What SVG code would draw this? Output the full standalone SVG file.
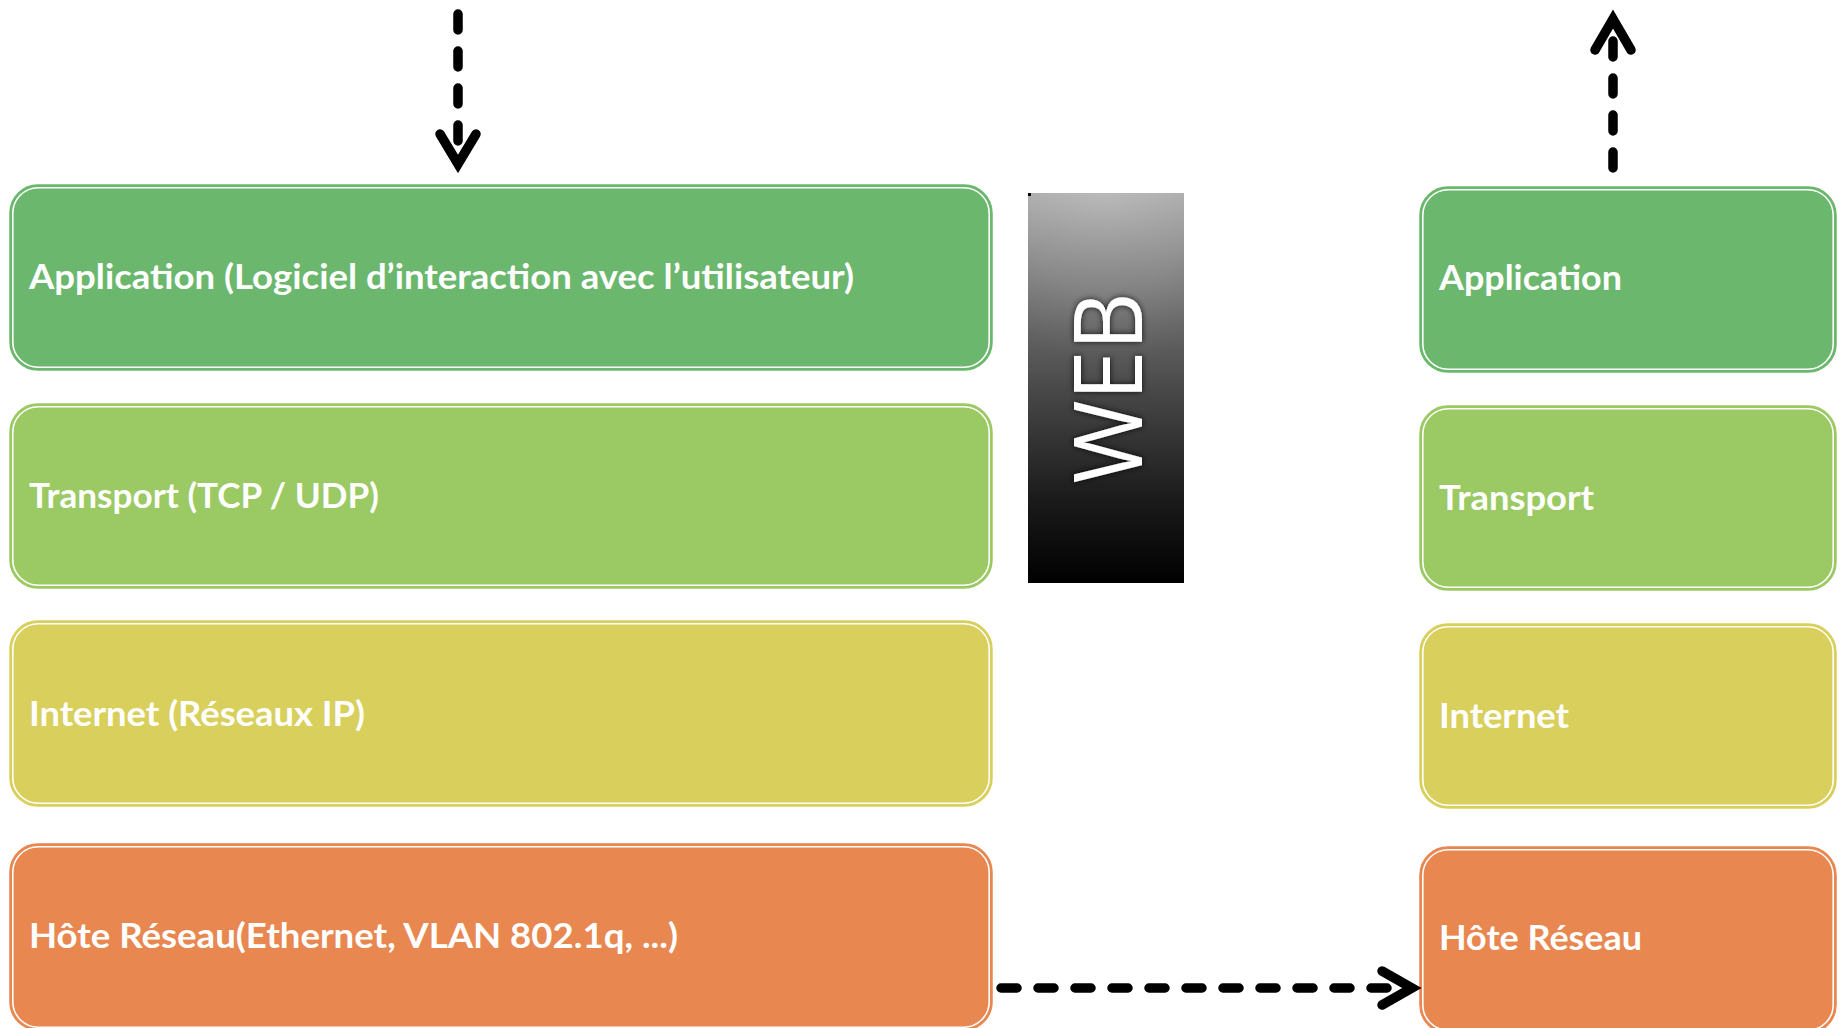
<svg xmlns="http://www.w3.org/2000/svg" width="1842" height="1028" viewBox="0 0 1842 1028">
<defs>
<style>
.box{stroke-width:1.5}
.inner{fill:none;stroke:#ffffff;stroke-width:1.6}
.lbl{font-family:Lato,"Open Sans","Liberation Sans",sans-serif;font-weight:bold;font-size:34px;fill:#ffffff}
.app{fill:#6CB76E;stroke:#6CB76E}
.tra{fill:#9BC963;stroke:#9BC963}
.int{fill:#D9CF5C;stroke:#D9CF5C}
.hot{fill:#E88750;stroke:#E88750}
.dash{fill:none;stroke:#000;stroke-width:9.5;stroke-linecap:round;stroke-dasharray:16 21}
.head{fill:none;stroke:#000;stroke-width:9.5;stroke-linecap:round;stroke-linejoin:miter}
.web{font-family:"Open Sans","DejaVu Sans",sans-serif;font-size:96px;fill:#ffffff}
</style>
<linearGradient id="webg" x1="0" y1="0" x2="0" y2="1">
<stop offset="0" stop-color="#bababa"/>
<stop offset="0.25" stop-color="#8a8a8a"/>
<stop offset="0.5" stop-color="#565656"/>
<stop offset="0.78" stop-color="#202020"/>
<stop offset="1" stop-color="#000000"/>
</linearGradient>
<radialGradient id="webshade" cx="0.5" cy="0" r="0.9" gradientTransform="translate(0.5,0) scale(1,0.5) translate(-0.5,0)">
<stop offset="0" stop-color="#000" stop-opacity="0"/>
<stop offset="0.6" stop-color="#000" stop-opacity="0.06"/>
<stop offset="1" stop-color="#000" stop-opacity="0.15"/>
</radialGradient>
<filter id="glow" x="-20%" y="-20%" width="140%" height="140%">
<feDropShadow dx="0" dy="0" stdDeviation="3" flood-color="#000" flood-opacity="0.8"/>
</filter>
</defs>
<rect width="1842" height="1028" fill="#ffffff"/>

<g id="left-application">
<rect class="box app" x="10" y="185" width="982" height="185" rx="28"/>
<rect class="inner" x="12.8" y="187.8" width="976.4" height="179.4" rx="25.5"/>
<text class="lbl" x="29" y="289" textLength="825" lengthAdjust="spacingAndGlyphs">Application (Logiciel d’interaction avec l’utilisateur)</text>
</g>
<g id="left-transport">
<rect class="box tra" x="10" y="404" width="982" height="184" rx="28"/>
<rect class="inner" x="12.8" y="406.8" width="976.4" height="178.4" rx="25.5"/>
<text class="lbl" x="29" y="507.5" textLength="350" lengthAdjust="spacingAndGlyphs">Transport (TCP / UDP)</text>
</g>
<g id="left-internet">
<rect class="box int" x="10" y="621" width="982" height="185" rx="28"/>
<rect class="inner" x="12.8" y="623.8" width="976.4" height="179.4" rx="25.5"/>
<text class="lbl" x="29" y="725.5" textLength="336" lengthAdjust="spacingAndGlyphs">Internet (Réseaux IP)</text>
</g>
<g id="left-hote">
<rect class="box hot" x="10" y="844" width="982" height="186" rx="28"/>
<rect class="inner" x="12.8" y="846.8" width="976.4" height="180.4" rx="25.5"/>
<text class="lbl" x="29" y="948" textLength="649" lengthAdjust="spacingAndGlyphs">Hôte Réseau(Ethernet, VLAN 802.1q, ...)</text>
</g>

<g id="web">
<rect x="1028" y="193" width="156" height="390" fill="url(#webg)"/>
<rect x="1028" y="193" width="156" height="390" fill="url(#webshade)"/>
<rect x="1028" y="193" width="3" height="3" fill="#000"/>
<text class="web" transform="translate(1142,388) rotate(-90)" text-anchor="middle" textLength="191" lengthAdjust="spacingAndGlyphs" filter="url(#glow)">WEB</text>
</g>

<g id="right-application">
<rect class="box app" x="1420" y="187" width="416" height="185" rx="28"/>
<rect class="inner" x="1422.8" y="189.8" width="410.4" height="179.4" rx="25.5"/>
<text class="lbl" x="1439" y="290" textLength="183" lengthAdjust="spacingAndGlyphs">Application</text>
</g>
<g id="right-transport">
<rect class="box tra" x="1420" y="406" width="416" height="184" rx="28"/>
<rect class="inner" x="1422.8" y="408.8" width="410.4" height="178.4" rx="25.5"/>
<text class="lbl" x="1439" y="509.5" textLength="155" lengthAdjust="spacingAndGlyphs">Transport</text>
</g>
<g id="right-internet">
<rect class="box int" x="1420" y="624" width="416" height="184" rx="28"/>
<rect class="inner" x="1422.8" y="626.8" width="410.4" height="178.4" rx="25.5"/>
<text class="lbl" x="1439" y="727.5" textLength="130" lengthAdjust="spacingAndGlyphs">Internet</text>
</g>
<g id="right-hote">
<rect class="box hot" x="1420" y="847" width="416" height="186" rx="28"/>
<rect class="inner" x="1422.8" y="849.8" width="410.4" height="180.4" rx="25.5"/>
<text class="lbl" x="1439" y="950" textLength="203" lengthAdjust="spacingAndGlyphs">Hôte Réseau</text>
</g>

<g id="connectors">
<path class="dash" d="M458 14 V160"/>
<path class="head" d="M440 134 L458 164 L476 134"/>
<path class="dash" d="M1613 168 V22"/>
<path class="head" d="M1595 50 L1613 19 L1631 50"/>
<path class="dash" d="M1001 988 H1410"/>
<path class="head" d="M1382 971 L1412 988 L1382 1005"/>
</g>
</svg>
